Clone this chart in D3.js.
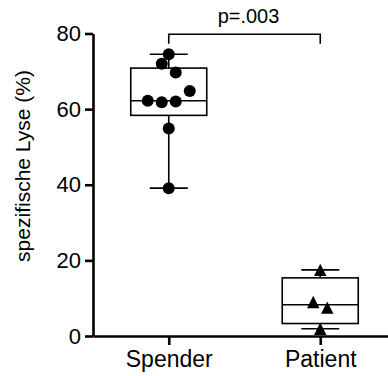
<!DOCTYPE html>
<html>
<head>
<meta charset="utf-8">
<script src="https://cdn.jsdelivr.net/npm/d3@7"></script>
<style>
  html, body { margin: 0; padding: 0; background: #fff; }
  svg { display: block; }
  text { font-family: "Liberation Sans", Arial, Helvetica, sans-serif; fill: #000; }
</style>
</head>
<body>
<svg id="chart" width="388" height="376"></svg>
<script>
// ---- data ----
const categories = ["Spender", "Patient"];
const spenderValues = [72.0, 74.5, 69.7, 62.2, 61.8, 62.0, 64.8, 54.9, 39.1];
const patientValues = [9.0, 17.5, 7.5, 1.9];
const yTicks = [0, 20, 40, 60, 80];
const yTitle = "spezifische Lyse (%)";
const pLabel = "p=.003";

// ---- layout ----
const W = 388, H = 376;
const svg = d3.select("#chart");
const y = d3.scaleLinear().domain([0, 80]).range([336, 33.5]);
const x = d3.scalePoint().domain(categories).range([93, 396]).padding(0.5);

const boxW = 76, capW = 38, dotR = 6, triS = 6.2;

// quartiles (n+1)p method
function q(sorted, p) {
  const n = sorted.length;
  let pos = (n + 1) * p;
  if (pos < 1) pos = 1;
  if (pos > n) pos = n;
  const lo = Math.floor(pos), hi = Math.ceil(pos);
  return sorted[lo - 1] + (pos - lo) * (sorted[hi - 1] - sorted[lo - 1]);
}
function stats(vals) {
  const s = vals.slice().sort((a, b) => a - b);
  return { min: s[0], q1: q(s, 0.25), med: q(s, 0.5), q3: q(s, 0.75), max: s[s.length - 1] };
}

// simple swarm: cluster overlapping points, spread symmetrically
function swarm(vals, diameter) {
  const idx = vals.map((v, i) => i).sort((a, b) => vals[b] - vals[a]);
  const clusters = [];
  let cur = [idx[0]];
  for (let k = 1; k < idx.length; k++) {
    const prev = idx[k - 1], me = idx[k];
    if (Math.abs(y(vals[prev]) - y(vals[me])) < diameter) cur.push(me);
    else { clusters.push(cur); cur = [me]; }
  }
  clusters.push(cur);
  const off = new Array(vals.length).fill(0);
  clusters.forEach(c => {
    if (c.length < 2) return;
    const ys = c.map(i => y(vals[i]));
    const span = d3.max(ys) - d3.min(ys);
    const spacing = span < diameter ? diameter + 2 : (diameter + 2) / 2;
    const ordered = c.slice().sort((a, b) => a - b);
    ordered.forEach((i, j) => { off[i] = (j - (ordered.length - 1) / 2) * spacing; });
  });
  return off;
}

const groups = [
  { name: categories[0], values: spenderValues, shape: "circle" },
  { name: categories[1], values: patientValues, shape: "triangle" }
];

// boxes
groups.forEach(g => {
  const s = stats(g.values);
  const cx = x(g.name);
  const G = svg.append("g").attr("stroke", "#000").attr("stroke-width", 1.6).attr("fill", "none");
  G.append("line").attr("x1", cx).attr("x2", cx).attr("y1", y(s.max)).attr("y2", y(s.q3));
  G.append("line").attr("x1", cx).attr("x2", cx).attr("y1", y(s.q1)).attr("y2", y(s.min));
  G.append("line").attr("x1", cx - capW / 2).attr("x2", cx + capW / 2).attr("y1", y(s.max)).attr("y2", y(s.max));
  G.append("line").attr("x1", cx - capW / 2).attr("x2", cx + capW / 2).attr("y1", y(s.min)).attr("y2", y(s.min));
  G.append("rect").attr("x", cx - boxW / 2).attr("width", boxW)
    .attr("y", y(s.q3)).attr("height", y(s.q1) - y(s.q3));
  G.append("line").attr("x1", cx - boxW / 2).attr("x2", cx + boxW / 2).attr("y1", y(s.med)).attr("y2", y(s.med));

  const offs = swarm(g.values, 12);
  const P = svg.append("g").attr("fill", "#000");
  if (g.shape === "circle") {
    P.selectAll("circle").data(g.values).join("circle")
      .attr("cx", (d, i) => cx + offs[i]).attr("cy", d => y(d)).attr("r", dotR);
  } else {
    P.selectAll("path").data(g.values).join("path")
      .attr("d", (d, i) => {
        const px = cx + offs[i], py = y(d);
        return `M${px},${py - triS}L${px + triS},${py + triS}L${px - triS},${py + triS}Z`;
      });
  }
});

// y axis
const yAxis = svg.append("g").attr("transform", "translate(93,0)")
  .call(d3.axisLeft(y).tickValues(yTicks).tickSize(8).tickPadding(4).tickSizeOuter(0));
yAxis.select(".domain").attr("stroke", "#000").attr("stroke-width", 2.6);
yAxis.selectAll(".tick line").attr("stroke", "#000").attr("stroke-width", 2.6);
yAxis.selectAll(".tick text").attr("font-size", 22).attr("font-family", "Liberation Sans, Arial, sans-serif").attr("fill", "#000");

// x axis
const xAxis = svg.append("g").attr("transform", "translate(0,336)")
  .call(d3.axisBottom(x).tickSize(9).tickPadding(6).tickSizeOuter(0));
xAxis.select(".domain").attr("stroke", "#000").attr("stroke-width", 2.6);
xAxis.selectAll(".tick line").attr("stroke", "#000").attr("stroke-width", 2.6);
xAxis.selectAll(".tick text").attr("font-size", 23).attr("font-family", "Liberation Sans, Arial, sans-serif").attr("fill", "#000");

// y title
svg.append("text")
  .attr("transform", "translate(30,166) rotate(-90)")
  .attr("text-anchor", "middle")
  .attr("font-size", 21)
  .text(yTitle);

// significance bracket
const by = y(79.8);
svg.append("path")
  .attr("d", `M${x(categories[0])},${by + 9.5}V${by}H${x(categories[1])}V${by + 9.5}`)
  .attr("fill", "none").attr("stroke", "#000").attr("stroke-width", 1.6);
svg.append("text")
  .attr("x", (x(categories[0]) + x(categories[1])) / 2 + 4)
  .attr("y", 23.3)
  .attr("text-anchor", "middle")
  .attr("font-size", 20)
  .text(pLabel);
</script>
</body>
</html>
